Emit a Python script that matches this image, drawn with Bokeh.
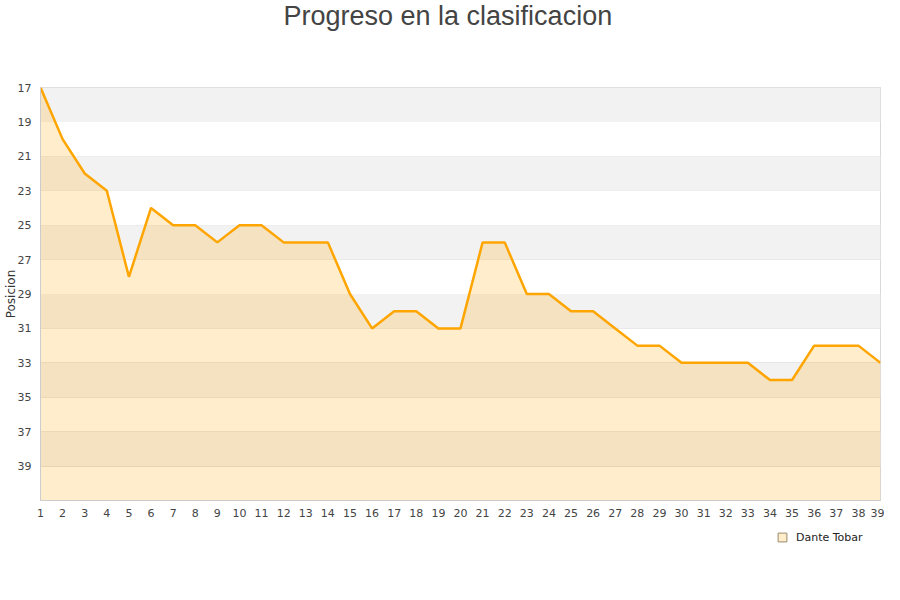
from bokeh.plotting import figure
from bokeh.layouts import column
from bokeh.models import Range1d, FixedTicker, BoxAnnotation, Legend, LegendItem, ColumnDataSource, Title
from bokeh.embed import file_html
from bokeh.resources import INLINE

# data
jornadas = list(range(1, 40))
posicion = [17, 20, 22, 23, 28, 24, 25, 25, 26, 25,
            25, 26, 26, 26, 29, 31, 30, 30, 31, 31,
            26, 26, 29, 29, 30, 30, 31, 32, 32, 33,
            33, 33, 33, 34, 34, 32, 32, 32, 33]
y_ticks = list(range(17, 40, 2))
y_top = 17
y_bottom = 41
series_name = "Dante Tobar"
title_text = "Progreso en la clasificacion"
y_label = "Posicion"

p = figure(frame_width=840, frame_height=413,
           output_backend="svg", toolbar_location=None,
           x_range=Range1d(1, 39), y_range=Range1d(y_bottom, y_top),
           min_border_left=40, min_border_right=4, min_border_top=87, min_border_bottom=16,
           background_fill_color="white", border_fill_color="white")

# spacer between frame and title (added first -> closest to the frame)
p.add_layout(Title(text=" ", text_font_size="11px", standoff=41), "above")
p.add_layout(Title(text=title_text, align="left", offset=243, vertical_align="top", standoff=0,
                   text_font="Liberation Sans", text_font_size="27px",
                   text_font_style="normal", text_color="#444444"), "above")

p.outline_line_color = "#d9d9d9"
p.outline_line_width = 1

# bands
for start in y_ticks[::2]:
    p.add_layout(BoxAnnotation(top=start, bottom=start + 2, fill_color="#f2f2f2",
                               fill_alpha=1.0, line_alpha=0, level="underlay"))

p.xgrid.visible = False
p.ygrid.ticker = FixedTicker(ticks=y_ticks)
p.ygrid.grid_line_color = "#e0e0e0"
p.ygrid.grid_line_width = 1

# axes
p.xaxis.ticker = FixedTicker(ticks=jornadas)
p.yaxis.ticker = FixedTicker(ticks=y_ticks)
for ax in (p.xaxis[0], p.yaxis[0]):
    ax.axis_line_color = "#cccccc"
    ax.major_tick_line_color = None
    ax.minor_tick_line_color = None
    ax.major_tick_out = 0
    ax.major_tick_in = 0
    ax.major_label_text_font = "DejaVu Sans"
    ax.major_label_text_font_size = "11px"
    ax.major_label_text_color = "#444444"
p.xaxis.major_label_standoff = 8
p.yaxis.major_label_standoff = 9
p.yaxis.axis_label = y_label
p.yaxis.axis_label_text_font = "DejaVu Sans"
p.yaxis.axis_label_text_font_size = "12px"
p.yaxis.axis_label_text_font_style = "normal"
p.yaxis.axis_label_text_color = "#333333"
p.yaxis.axis_label_standoff = -3

src = ColumnDataSource(dict(x=jornadas, y=posicion, base=[y_bottom] * len(jornadas)))
p.varea(x="x", y1="y", y2="base", source=src, fill_color="#ffa500", fill_alpha=0.2)
p.line(x="x", y="y", source=src, line_color="#ffa500", line_width=2.5)

# legend strip below the chart
p2 = figure(width=884, height=50, output_backend="svg", toolbar_location=None,
            x_range=Range1d(0, 1), y_range=Range1d(0, 1), min_border=0,
            background_fill_color="white", border_fill_color="white")
p2.axis.visible = False
p2.grid.visible = False
p2.outline_line_color = None
# swatch renderer: its data lie outside this strip's ranges, only the legend shows it
swatch = p2.scatter(x="x", y="y", source=src, marker="square", size=9,
                    fill_color="#ffedcc", line_color="#9a8a6a", line_width=1)
legend = Legend(items=[LegendItem(label=series_name, renderers=[swatch])],
                location=(731, 21), orientation="horizontal",
                glyph_width=22, glyph_height=22, label_standoff=3,
                label_text_font="DejaVu Sans", label_text_font_size="11px",
                label_text_color="#222222", border_line_alpha=0,
                background_fill_alpha=0, margin=0, padding=0, spacing=0)
p2.add_layout(legend, "center")

open("out.html", "w").write(file_html(column(p, p2), INLINE))
